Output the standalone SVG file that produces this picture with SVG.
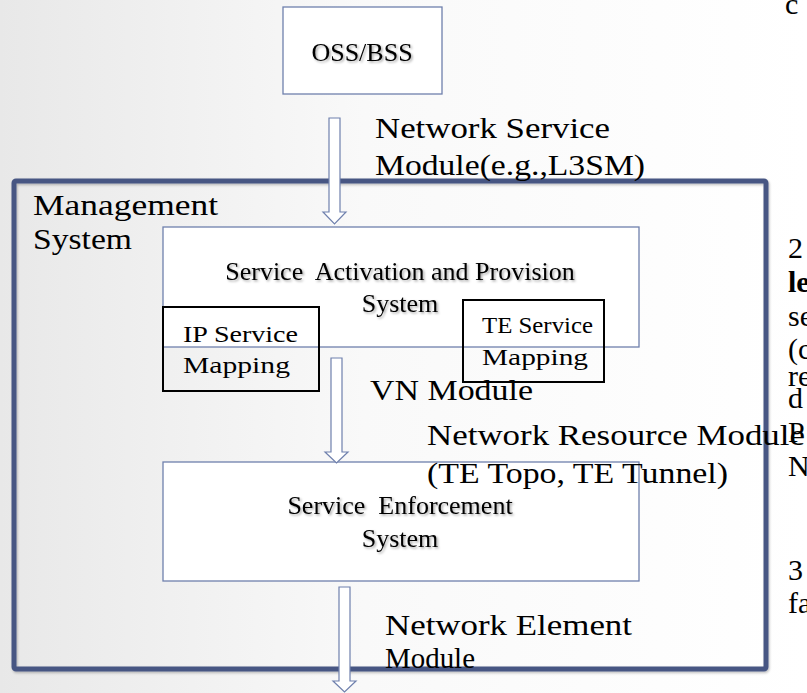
<svg xmlns="http://www.w3.org/2000/svg" width="807" height="693" viewBox="0 0 807 693">
<defs>
<linearGradient id="bg" x1="0" y1="0" x2="1" y2="0">
<stop offset="0" stop-color="#e8e8e8"/>
<stop offset="0.45" stop-color="#f9f9f9"/>
<stop offset="1" stop-color="#ffffff"/>
</linearGradient>
<filter id="sh" x="-10%" y="-30%" width="120%" height="160%">
<feDropShadow dx="1.5" dy="1.5" stdDeviation="1" flood-color="#000" flood-opacity="0.35"/>
</filter>
<filter id="bsh" x="-5%" y="-5%" width="110%" height="110%">
<feDropShadow dx="1" dy="1.5" stdDeviation="1" flood-color="#000" flood-opacity="0.25"/>
</filter>
<style>
.box{fill:#fff;stroke:#6f80ad;stroke-width:1.3}
.map{fill:none;stroke:#000;stroke-width:2}
.arr{fill:#fff;stroke:#6f80ad;stroke-width:1.2;stroke-linejoin:miter}
.t{font-family:"Liberation Serif","Times New Roman",serif;fill:#000}
.big{font-size:30px}
.mid{font-size:24px}
.in{font-size:26px;text-anchor:middle}
.sh{filter:url(#sh)}
</style>
</defs>
<rect width="807" height="693" fill="url(#bg)"/>

<g id="management-system">
<rect x="14" y="181" width="752" height="488" rx="2" fill="none" stroke="#465683" stroke-width="5" filter="url(#bsh)"/>
<text class="t big" x="33" y="215" textLength="185" lengthAdjust="spacingAndGlyphs">Management</text>
<text class="t big" x="33" y="249" textLength="99" lengthAdjust="spacingAndGlyphs">System</text>
</g>

<g id="oss-bss">
<rect class="box" x="283" y="7" width="159" height="87"/>
<text class="t in sh" x="362" y="61">OSS/BSS</text>
</g>

<g id="service-activation">
<rect class="box" x="163" y="227" width="476" height="120"/>
<text class="t in sh" x="400" y="280" xml:space="preserve">Service  Activation and Provision</text>
<text class="t in sh" x="400" y="312">System</text>
</g>

<g id="ip-service-mapping">
<rect class="map" x="163" y="307" width="156" height="84"/>
<text class="t mid" x="183" y="342" textLength="115" lengthAdjust="spacingAndGlyphs">IP Service</text>
<text class="t mid" x="183" y="373" textLength="107" lengthAdjust="spacingAndGlyphs">Mapping</text>
</g>

<g id="te-service-mapping">
<rect class="map" x="463" y="300" width="141" height="82"/>
<text class="t mid" x="482" y="333" textLength="111" lengthAdjust="spacingAndGlyphs">TE Service</text>
<text class="t mid" x="482" y="365" textLength="106" lengthAdjust="spacingAndGlyphs">Mapping</text>
</g>

<g id="service-enforcement">
<rect class="box" x="163" y="462" width="476" height="119"/>
<text class="t in sh" x="400" y="514" xml:space="preserve">Service  Enforcement</text>
<text class="t in sh" x="400" y="547">System</text>
</g>

<g id="connectors">
<path class="arr" d="M329,118 H340 V212 H346 L334.5,224 L323,212 H329 Z"/>
<path class="arr" d="M331,358 H342 V452 H348 L336.5,463 L325,452 H331 Z"/>
<path class="arr" d="M339,587 H350 V681 H356 L344.5,692 L333,681 H339 Z"/>
</g>

<g id="labels">
<text class="t big" x="375" y="138" textLength="235" lengthAdjust="spacingAndGlyphs">Network Service</text>
<text class="t big" x="375" y="175" textLength="270" lengthAdjust="spacingAndGlyphs">Module(e.g.,L3SM)</text>
<text class="t big" x="370" y="400" textLength="163" lengthAdjust="spacingAndGlyphs">VN Module</text>
<text class="t big" x="427" y="445" textLength="378" lengthAdjust="spacingAndGlyphs">Network Resource Module</text>
<text class="t big" x="427" y="483" textLength="301" lengthAdjust="spacingAndGlyphs">(TE Topo, TE Tunnel)</text>
<text class="t big" x="385" y="635" textLength="247" lengthAdjust="spacingAndGlyphs">Network Element</text>
<text class="t big" x="385" y="668" textLength="90" lengthAdjust="spacingAndGlyphs">Module</text>
</g>

<g id="right-column">
<text class="t big" x="785" y="14">c</text>
<text class="t big" x="788" y="258">2</text>
<text class="t big" x="788" y="292" font-weight="bold">le</text>
<text class="t big" x="788" y="326">se</text>
<text class="t big" x="788" y="359">(c</text>
<text class="t big" x="788" y="386">re</text>
<text class="t big" x="788" y="408">d</text>
<text class="t big" x="788" y="442">P</text>
<text class="t big" x="788" y="476">N</text>
<text class="t big" x="788" y="580">3</text>
<text class="t big" x="788" y="613">fa</text>
</g>
</svg>
